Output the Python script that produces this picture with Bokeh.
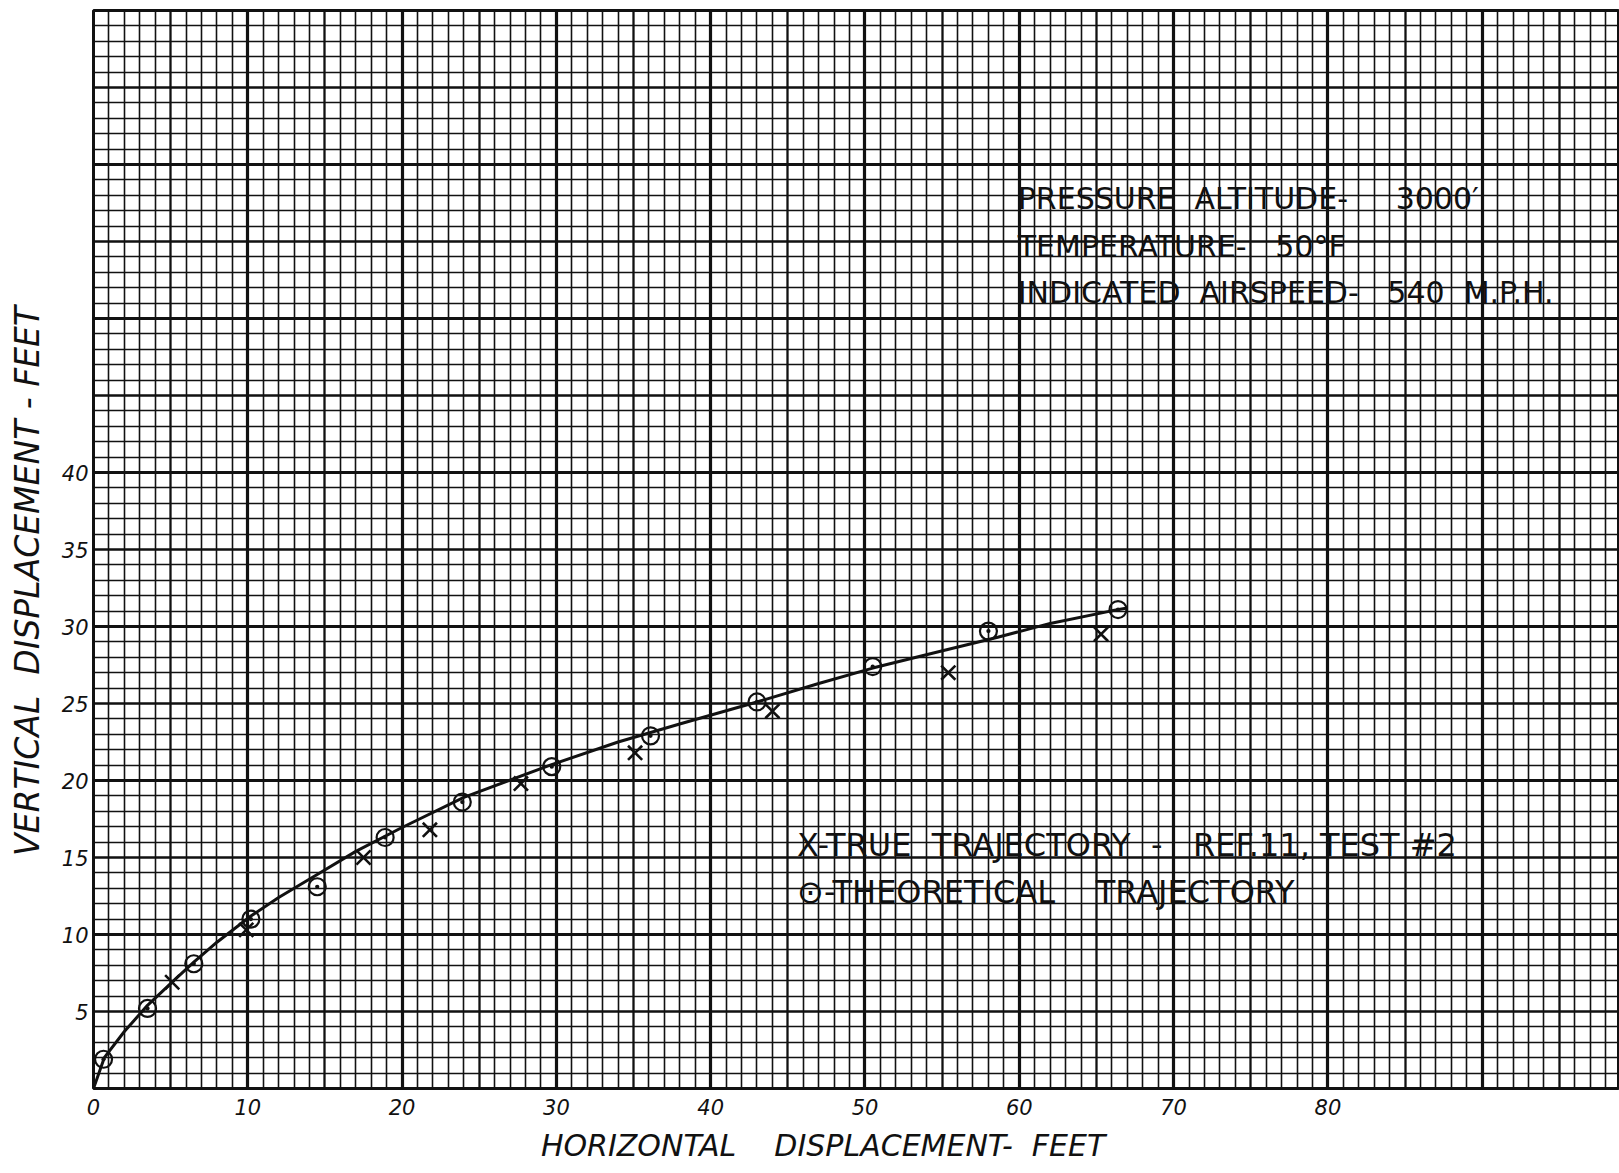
from bokeh.plotting import figure
from bokeh.models import Grid, FixedTicker, Label, Range1d
from bokeh.embed import file_html
from bokeh.resources import INLINE

# Theoretical trajectory points (circles)
theo_x = [0.65, 3.5, 6.5, 10.2, 14.5, 18.9, 23.9, 29.7, 36.1, 43.0, 50.5, 58.0, 66.4]
theo_y = [1.9, 5.2, 8.1, 11.0, 13.1, 16.3, 18.6, 20.9, 22.9, 25.1, 27.4, 29.7, 31.1]

# True trajectory points (x marks)
true_x = [5.1, 9.9, 17.5, 21.8, 27.7, 35.1, 44.0, 55.4, 65.3]
true_y = [6.9, 10.3, 15.0, 16.8, 19.8, 21.8, 24.5, 27.0, 29.5]

# Faired curve
curve_x = [0, 0.7, 2.0, 3.5, 5.2, 6.5, 8.0, 10.2, 12.0, 14.5, 17.0, 19.9, 24.0,
           29.6, 34.0, 38.1, 43.0, 47.0, 50.5, 54.5, 58.6, 62.0, 65.9, 67.0]
curve_y = [0, 2.0, 3.7, 5.4, 7.0, 8.2, 9.5, 11.2, 12.4, 13.9, 15.4, 16.9, 18.9,
           21.0, 22.5, 23.7, 25.1, 26.3, 27.3, 28.3, 29.3, 30.2, 31.0, 31.2]

x_ticks = [0, 10, 20, 30, 40, 50, 60, 70, 80]
y_ticks = [5, 10, 15, 20, 25, 30, 35, 40]

NB = "\u00a0"
# trailing no-break spaces shift the centred titles to where the drawing has them
x_title = "HORIZONTAL" + NB * 4 + "DISPLACEMENT-" + NB * 2 + "FEET" + NB * 7
y_title = "VERTICAL" + NB * 2 + "DISPLACEMENT" + NB + "-" + NB + "FEET" + NB * 6

FONT = "DejaVu Sans"
INK = "#111111"

p = figure(width=1619, height=1173, x_range=Range1d(0, 98.9), y_range=Range1d(0, 70),
           output_backend="svg", toolbar_location=None,
           min_border_left=93, min_border_right=0, min_border_top=10, min_border_bottom=85)
p.background_fill_color = "white"
p.border_fill_color = "white"
p.outline_line_color = INK
p.outline_line_width = 3

p.xgrid.visible = False
p.ygrid.visible = False

# graph-paper grid: fine (1), medium (5), heavy (10)
fine_x = [v for v in range(0, 99) if v % 5 != 0]
med_x = [v for v in range(0, 99) if v % 5 == 0 and v % 10 != 0]
heavy_x = [v for v in range(0, 99) if v % 10 == 0]
fine_y = [v for v in range(0, 71) if v % 5 != 0]
med_y = [v for v in range(0, 71) if v % 5 == 0 and v % 10 != 0]
heavy_y = [v for v in range(0, 71) if v % 10 == 0]
for dim, ticks, w in [(0, fine_x, 1.6), (0, med_x, 2.3), (0, heavy_x, 3.2),
                      (1, fine_y, 1.6), (1, med_y, 2.3), (1, heavy_y, 3.2)]:
    p.add_layout(Grid(dimension=dim, ticker=FixedTicker(ticks=ticks),
                      grid_line_color=INK, grid_line_width=w))

for ax in (p.xaxis[0], p.yaxis[0]):
    ax.axis_line_color = None
    ax.major_tick_line_color = None
    ax.minor_tick_line_color = None
    ax.major_label_text_font = FONT
    ax.major_label_text_font_style = "italic"
    ax.major_label_text_font_size = "21px"
    ax.major_label_text_color = INK
    ax.major_label_text_line_height = 1.0
    ax.axis_label_text_font = FONT
    ax.axis_label_text_font_style = "italic"
    ax.axis_label_text_color = INK
    ax.axis_label_text_line_height = 1.0

p.xaxis.axis_label_text_font_size = "30px"
p.yaxis.axis_label_text_font_size = "33px"
p.xaxis.ticker = FixedTicker(ticks=x_ticks)
p.yaxis.ticker = FixedTicker(ticks=y_ticks)
p.xaxis.major_label_standoff = 4
p.yaxis.major_label_standoff = -1
p.xaxis.axis_label = x_title
p.yaxis.axis_label = y_title
p.xaxis.axis_label_standoff = 10
p.yaxis.axis_label_standoff = 12

p.line(curve_x, curve_y, line_color=INK, line_width=3)
p.scatter(theo_x, theo_y, marker="circle_dot", size=17, fill_color=None,
          line_color=INK, line_width=2.2)
p.scatter(true_x, true_y, marker="x", size=20, line_color=INK, line_width=2.6)

notes = [
    (59.9, 57.8, "PRESSURE" + NB * 2 + "ALTITUDE-" + NB * 5 + "3000\u2032", "30px"),
    (59.9, 54.7, "TEMPERATURE-" + NB * 3 + "50\u00b0F", "30px"),
    (59.9, 51.7, "INDICATED" + NB * 2 + "AIRSPEED-" + NB * 3 + "540" + NB * 2 + "M.P.H.", "30px"),
    (45.6, 15.8, "X-TRUE" + NB * 2 + "TRAJECTORY" + NB * 2 + "-" + NB * 3 + "REF.11," + NB + "TEST" + NB + "#2", "32px"),
    (45.6, 12.75, "\u2299-THEORETICAL" + NB * 4 + "TRAJECTORY", "32px"),
]
for nx, ny, t, fs in notes:
    p.add_layout(Label(x=nx, y=ny, text=t, text_font=FONT, text_font_size=fs,
                       text_color=INK, text_baseline="middle", text_align="left"))

open("out.html", "w").write(file_html(p, INLINE))
